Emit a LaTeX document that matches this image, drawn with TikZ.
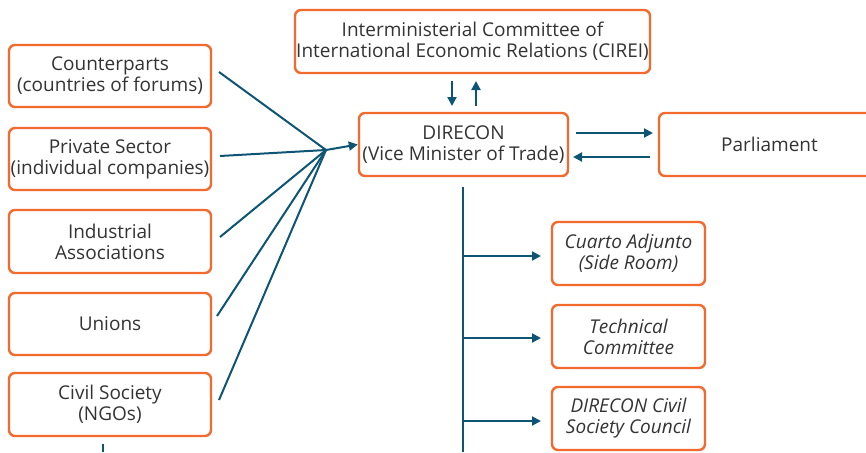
\documentclass[tikz,border=0pt]{standalone}
\usepackage{fontspec}
\setmainfont{Open Sans}
\usetikzlibrary{arrows.meta}
\definecolor{boxorange}{HTML}{F26A2E}
\definecolor{linkteal}{HTML}{0E5474}
\definecolor{txt}{HTML}{333333}
\begin{document}
\begin{tikzpicture}[x=1pt,y=-1pt,
  box/.style={draw=boxorange,line width=2.4pt,rounded corners=6pt,text=txt,
    font=\fontsize{19}{21}\selectfont,align=center,inner sep=0pt},
  link/.style={draw=linkteal,line width=2pt},
  arr/.style={link,-{Triangle[length=9pt,width=9pt]}}]
\useasboundingbox (0,0) rectangle (866,452);
\newcommand\bx[6]{\node[box,minimum width=#4-#2,minimum height=#5-#3] (#1) at ({(#2+#4)/2},{(#3+#5)/2}) {#6};}
\bx{cp}{9}{45}{211}{107}{Counterparts\\(countries of forums)}
\bx{ps}{9}{128}{211}{190}{Private Sector\\(individual companies)}
\bx{ia}{9}{210}{211}{273}{Industrial\\Associations}
\bx{un}{9}{293}{211}{355}{Unions}
\bx{cs}{9}{373}{211}{436}{Civil Society\\(NGOs)}
\bx{ci}{295}{10}{650}{73}{Interministerial Committee of\\International Economic Relations (CIREI)}
\bx{di}{359}{113}{568}{176}{DIRECON\\(Vice Minister of Trade)}
\bx{pa}{659}{113}{880}{176}{Parliament}
\bx{ca}{552}{222}{705}{285}{\itshape Cuarto Adjunto\\\itshape (Side Room)}
\bx{tc}{552}{305}{705}{368}{\itshape Technical\\\itshape Committee}
\bx{dc}{552}{387}{705}{450}{\itshape DIRECON Civil\\\itshape Society Council}
% fan-in
\coordinate (hub) at (326,150);
\coordinate (cpE) at (219,72);
\coordinate (psE) at (220,156);
\coordinate (iaE) at (220,237);
\coordinate (unE) at (217,316);
\coordinate (csE) at (219,400);
\foreach \e in {cpE,psE,iaE,unE,csE} \draw[link] (\e) -- (hub);
\draw[arr] (hub) -- (di.west);
% CIREI arrows
\coordinate (ciD1) at (452,81);
\coordinate (ciD2) at (452,106);
\coordinate (ciU1) at (476,106);
\coordinate (ciU2) at (476,81);
\draw[arr] (ciD1) -- (ciD2);
\draw[arr] (ciU1) -- (ciU2);
% Parliament arrows
\coordinate (pr1) at (576,133);
\coordinate (pr2) at (653,133);
\coordinate (pl1) at (650,157);
\coordinate (pl2) at (573,157);
\draw[arr] (pr1) -- (pr2);
\draw[arr] (pl1) -- (pl2);
% vertical trunk
\coordinate (trTop) at (463,187);
\coordinate (trBot) at (463,452);
\draw[link] (trTop) -- (trBot);
\foreach \y/\n in {256/ca,338/tc,421/dc}{
  \coordinate (b\n) at (463,\y);
  \coordinate (e\n) at (541,\y);
  \draw[arr] (b\n) -- (e\n);
}
% stub below Civil Society
\coordinate (csS1) at (103,444);
\coordinate (csS2) at (103,452);
\draw[link] (csS1) -- (csS2);
\end{tikzpicture}
\end{document}
